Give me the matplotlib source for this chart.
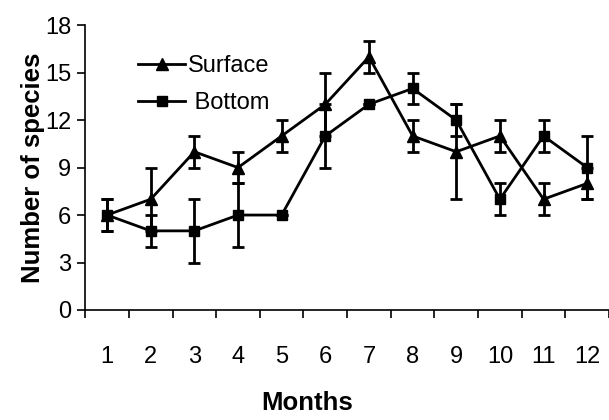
import numpy as np
import matplotlib.pyplot as plt
from matplotlib.lines import Line2D

plt.rcParams['font.family'] = ['Liberation Sans', 'DejaVu Sans']

months = np.arange(1, 13)
surface = [6, 7, 10, 9, 11, 13, 16, 11, 10, 11, 7, 8]
surface_err = [1, 2, 1, 1, 1, 2, 1, 1, 3, 1, 1, 1]
bottom = [6, 5, 5, 6, 6, 11, 13, 14, 12, 7, 11, 9]
bottom_err = [1, 1, 2, 2, 0, 2, 0, 1, 1, 1, 1, 2]
y_ticks = [0, 3, 6, 9, 12, 15, 18]

fig = plt.figure(figsize=(6.09, 4.2), dpi=100)
ax = fig.add_axes([0.14, 0.262, 0.86, 0.678])

ax.errorbar(months, surface, yerr=surface_err, color='black', marker='^',
            markersize=8, lw=2, capsize=4.5, capthick=2, elinewidth=2)
ax.errorbar(months, bottom, yerr=bottom_err, color='black', marker='s',
            markersize=7, lw=2, capsize=4.5, capthick=2, elinewidth=2)

ax.set_xlim(0.5, 12.5)
ax.set_ylim(0, 18)
ax.set_yticks(y_ticks)
ax.set_xticks(months)
ax.set_xticks(np.arange(0.5, 13, 1), minor=True)
ax.tick_params(axis='x', which='major', length=0, pad=26, labelsize=17)
ax.tick_params(axis='x', which='minor', length=6, width=1.2, direction='out')
ax.tick_params(axis='y', length=6, width=1.2, labelsize=17, pad=4)

for s in ['top', 'right']:
    ax.spines[s].set_visible(False)
ax.spines['left'].set_linewidth(1.2)
ax.spines['bottom'].set_linewidth(1.2)

ax.set_ylabel('Number of species', fontsize=18.5, fontweight='bold', labelpad=0)
fig.text(0.504, 0.012, 'Months', fontsize=18.5, fontweight='bold',
         ha='center', va='bottom')

handles = [Line2D([], [], color='black', marker='^', markersize=8, lw=2),
           Line2D([], [], color='black', marker='s', markersize=7, lw=2)]
ax.legend(handles, ['Surface', ' Bottom'], loc='upper left',
          bbox_to_anchor=(0.06, 0.97), frameon=False, fontsize=17,
          handlelength=2.0, handletextpad=0.1, labelspacing=0.65)

fig.savefig('out.png', dpi=100)
